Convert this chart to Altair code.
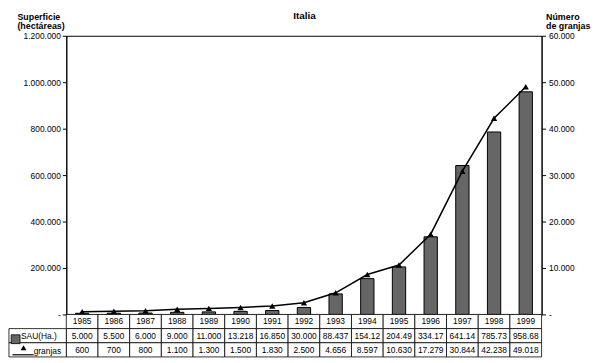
import altair as alt
import pandas as pd

# ---- data ----
years = [1985, 1986, 1987, 1988, 1989, 1990, 1991, 1992, 1993, 1994, 1995, 1996, 1997, 1998, 1999]
sau = [5000, 5500, 6000, 9000, 11000, 13218, 16850, 30000, 88437, 154120, 204490, 334170, 641140, 785730, 958680]
granjas = [600, 700, 800, 1100, 1300, 1500, 1830, 2500, 4656, 8597, 10630, 17279, 30844, 42238, 49018]
sau_labels = ["5.000", "5.500", "6.000", "9.000", "11.000", "13.218", "16.850", "30.000",
              "88.437", "154.12", "204.49", "334.17", "641.14", "785.73", "958.68"]
granjas_labels = ["600", "700", "800", "1.100", "1.300", "1.500", "1.830", "2.500",
                  "4.656", "8.597", "10.630", "17.279", "30.844", "42.238", "49.018"]
row_names = ["SAU(Ha.)", "granjas"]
left_ticks = [0, 200000, 400000, 600000, 800000, 1000000, 1200000]
right_ticks = [0, 10000, 20000, 30000, 40000, 50000, 60000]

FONT = "Liberation Sans"
W, H, TH = 481, 282, 43
LABEL_COL = -1.81  # width of the table's label column, in table columns

df = pd.DataFrame({"year": [str(y) for y in years], "sau": sau, "granjas": granjas})

label_expr = "datum.value == 0 ? '-' : replace(format(datum.value, ','), /,/g, '.')"

top_axis = alt.Axis(orient="top", title="Italia", labels=False, ticks=False, domain=False,
                    titleFontSize=10, titleFontWeight="bold", titleColor="black",
                    titleBaseline="alphabetic", titleY=-17)
x_main = alt.X("year:O", sort=None, scale=alt.Scale(paddingInner=0.58, paddingOuter=0.29), axis=top_axis)

left_axis = alt.Axis(orient="left", values=left_ticks, labelExpr=label_expr, grid=False,
                     tickSize=4, tickColor="black", domainColor="black",
                     labelFontSize=8.5, labelColor="black", labelPadding=2,
                     title=["Superficie", "(hectáreas)"], titleAngle=0, titleAlign="left",
                     titleBaseline="top", titleX=-50, titleY=-23, titleFontSize=9,
                     titleFontWeight="bold", titleColor="black", titleLineHeight=9)
right_axis = alt.Axis(orient="right", values=right_ticks, labelExpr=label_expr, grid=False,
                      tickSize=4, tickColor="black", domainColor="black",
                      labelFontSize=8.5, labelColor="black", labelPadding=3,
                      title=["Número", "de granjas"], titleAngle=0, titleAlign="left",
                      titleBaseline="top", titleX=4, titleY=-23, titleFontSize=9,
                      titleFontWeight="bold", titleColor="black", titleLineHeight=9)

bars = alt.Chart(df).mark_bar(fill="#666666", stroke="black", strokeWidth=1).encode(
    x=x_main,
    y=alt.Y("sau:Q", scale=alt.Scale(domain=[0, 1200000], nice=False), axis=left_axis),
)
line = alt.Chart(df).mark_line(
    color="black", strokeWidth=1.5,
    point=alt.OverlayMarkDef(shape="triangle-up", size=40, filled=True, color="black"),
).encode(
    x=x_main,
    y=alt.Y("granjas:Q", scale=alt.Scale(domain=[0, 60000], nice=False), axis=right_axis),
)
main = alt.layer(bars, line).resolve_scale(y="independent").properties(
    width=W, height=H, view=alt.ViewBackground(stroke="black", strokeWidth=1)
)

# ---- data table under the chart ----
cell_rows = []
text_rows = []
for i, y in enumerate(years):
    for r, txt in enumerate([str(y), sau_labels[i], granjas_labels[i]]):
        cell_rows.append({"x0": i, "x1": i + 1, "y0": r, "y1": r + 1})
        text_rows.append({"xc": i + 0.5, "yc": r + 0.5, "text": txt})
for r in (1, 2):
    cell_rows.append({"x0": LABEL_COL, "x1": 0, "y0": r, "y1": r + 1})
cells_df = pd.DataFrame(cell_rows)
text_df = pd.DataFrame(text_rows)
names_df = pd.DataFrame({"x": [-1.43, -1.03], "y": [1.5, 2.55], "text": row_names})
square_df = pd.DataFrame({"x": [-1.6], "y": [1.75]})
tri_df = pd.DataFrame({"x": [-1.35], "y": [2.35]})
key_line_df = pd.DataFrame({"x": [-1.7], "x2": [-1.03], "y": [2.85]})

xs = alt.Scale(domain=[0, 15], nice=False, zero=False)
ys = alt.Scale(domain=[0, 3], nice=False, zero=False, reverse=True)

cells = alt.Chart(cells_df).mark_rect(fill="white", stroke="black", strokeWidth=0.8).encode(
    x=alt.X("x0:Q", scale=xs, axis=None), x2="x1:Q",
    y=alt.Y("y0:Q", scale=ys, axis=None), y2="y1:Q",
)
texts = alt.Chart(text_df).mark_text(fontSize=8.5, baseline="middle", align="center", color="black").encode(
    x=alt.X("xc:Q", scale=xs, axis=None), y=alt.Y("yc:Q", scale=ys, axis=None), text="text:N"
)
names = alt.Chart(names_df).mark_text(fontSize=8.5, baseline="middle", align="left", color="black").encode(
    x=alt.X("x:Q", scale=xs, axis=None), y=alt.Y("y:Q", scale=ys, axis=None), text="text:N"
)
square = alt.Chart(square_df).mark_point(shape="square", size=80, filled=True, fill="#666666",
                                          stroke="black", strokeWidth=0.8, opacity=1).encode(
    x=alt.X("x:Q", scale=xs, axis=None), y=alt.Y("y:Q", scale=ys, axis=None)
)
tri = alt.Chart(tri_df).mark_point(shape="triangle-up", size=35, filled=True, color="black", opacity=1).encode(
    x=alt.X("x:Q", scale=xs, axis=None), y=alt.Y("y:Q", scale=ys, axis=None)
)
key_line = alt.Chart(key_line_df).mark_rule(color="black", strokeWidth=1.2).encode(
    x=alt.X("x:Q", scale=xs, axis=None), x2="x2:Q", y=alt.Y("y:Q", scale=ys, axis=None)
)
table = alt.layer(cells, texts, names, square, key_line, tri).properties(
    width=W, height=TH, view=alt.ViewBackground(stroke="transparent")
)

chart = alt.vconcat(main, table, spacing=0, bounds="flush").properties(padding=0).configure(
    font=FONT
)

chart.save("out.html", embed_options={"renderer": "svg", "actions": False})
